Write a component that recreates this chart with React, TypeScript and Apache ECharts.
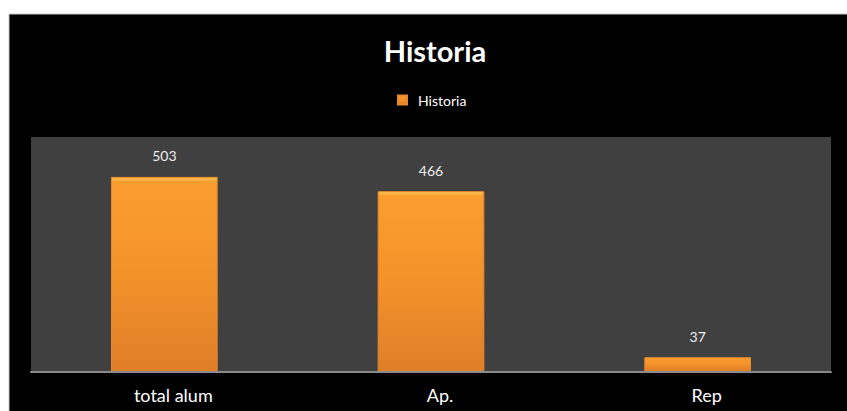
import React, { useEffect, useRef } from "react";
import * as echarts from "echarts";

const categories = ["total alum", "Ap.", "Rep"];
const seriesName = "Historia";
const values = [503, 466, 37];
const chartTitle = "Historia";

export default function App() {
  const ref = useRef<HTMLDivElement>(null);
  useEffect(() => {
    if (!ref.current) return;
    const chart = echarts.init(ref.current, undefined, { renderer: "svg" });
    chart.setOption({
      animation: false,
      backgroundColor: "#ffffff",
      graphic: [
        {
          type: "rect",
          z: -10,
          shape: { x: 9, y: 14, width: 845, height: 405 },
          style: { fill: "#000000", stroke: "#c8c8c8", lineWidth: 1 },
          silent: true,
        },
      ],
      title: {
        text: chartTitle,
        left: 430,
        top: 31,
        textAlign: "center",
        textStyle: {
          fontFamily: "Lato",
          fontWeight: "bold",
          fontSize: 29,
          color: "#ffffff",
        },
      },
      legend: {
        data: [seriesName],
        left: 397,
        top: 93,
        padding: 0,
        icon: "rect",
        itemWidth: 9,
        itemHeight: 9,
        itemGap: 8,
        textStyle: {
          fontFamily: "Lato",
          fontSize: 14,
          color: "#ffffff",
          padding: [0, 0, 0, 6],
        },
      },
      grid: {
        left: 31,
        right: 16,
        top: 137,
        bottom: 39.5,
        show: true,
        backgroundColor: "#404040",
        borderWidth: 0,
      },
      xAxis: {
        type: "category",
        data: categories,
        axisLine: { show: true, lineStyle: { color: "#8a8a8a", width: 2 } },
        axisTick: { show: false },
        axisLabel: {
          margin: 14,
          padding: [0, 0, 0, 18],
          fontFamily: "Lato",
          fontSize: 18,
          color: "#ffffff",
        },
        z: 5,
      },
      yAxis: {
        type: "value",
        min: 0,
        max: 606,
        show: false,
        splitLine: { show: false },
      },
      series: [
        {
          name: seriesName,
          type: "bar",
          data: values,
          barWidth: "40%",
          itemStyle: {
            color: new echarts.graphic.LinearGradient(0, 0, 0, 1, [
              { offset: 0, color: "#FDC456" },
              { offset: 0.025, color: "#FA9D2E" },
              { offset: 0.5, color: "#F4922A" },
              { offset: 1, color: "#DF7E28" },
            ]),
            borderColor: "#E58A2C",
            borderWidth: 1,
          },
          label: {
            show: true,
            position: "top",
            distance: 14,
            fontFamily: "Lato",
            fontSize: 14,
            color: "#eeeeee",
          },
        },
      ],
    });
    return () => chart.dispose();
  }, []);
  return (
    <div
      ref={ref}
      style={{ position: "absolute", left: 0, top: 0, width: 847, height: 411 }}
    />
  );
}
